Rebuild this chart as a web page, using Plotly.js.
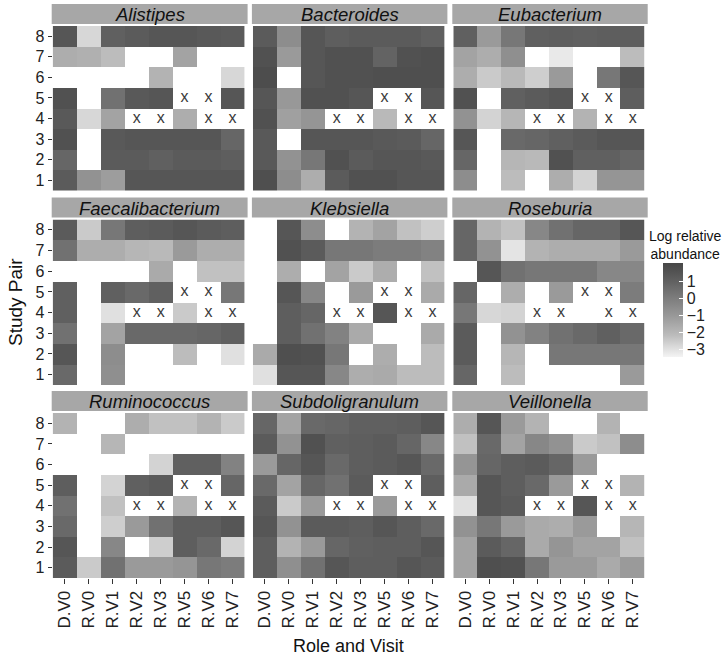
<!DOCTYPE html>
<html><head><meta charset="utf-8">
<script src="https://cdn.plot.ly/plotly-3.0.1.min.js"></script>
<style>html,body{margin:0;padding:0;background:#fff}</style>
</head><body><div id="chart" style="width:725px;height:657px"></div>
<script>
// ---------------- DATA ----------------
const visits = ['D.V0','R.V0','R.V1','R.V2','R.V3','R.V5','R.V6','R.V7'];
const pairs = [1,2,3,4,5,6,7,8];
const genera = ['Alistipes','Bacteroides','Eubacterium','Faecalibacterium','Klebsiella','Roseburia','Ruminococcus','Subdoligranulum','Veillonella'];

// rows listed from top (pair 8) down to bottom (pair 1); columns follow `visits`
const alistipes = [
  [1.4,-2.8,1.0,1.2,1.4,1.4,1.3,1.2],
  [-1.7,-1.8,-2.2,null,null,-1.4,null,null],
  [null,null,null,null,-1.9,null,null,-2.8],
  [1.6,null,0.4,1.3,1.4,null,null,1.4],
  [1.3,-2.8,-1.4,null,null,-1.7,null,null],
  [1.6,null,1.3,1.4,1.4,1.4,1.4,0.8],
  [0.8,null,1.2,1.2,1.0,1.2,1.2,1.1],
  [1.2,-0.8,-1.2,1.4,1.4,1.4,1.4,1.4]
];
const bacteroides = [
  [1.2,-0.6,1.4,1.1,1.2,1.2,1.2,1.0],
  [1.6,-1.1,1.4,1.6,1.6,0.9,1.6,1.7],
  [1.8,null,1.4,1.6,1.6,1.7,1.7,1.7],
  [1.4,-1.0,1.6,1.6,1.4,null,null,1.4],
  [1.6,-1.3,-0.9,null,null,-2.1,null,null],
  [1.3,null,1.4,1.4,1.4,1.3,1.2,0.8],
  [1.3,-0.8,0.2,1.6,1.2,1.4,1.4,1.3],
  [1.7,-0.6,-1.7,1.2,1.6,1.6,1.4,1.4]
];
const eubacterium = [
  [1.0,-1.1,0.2,1.0,1.1,1.0,1.1,1.1],
  [-1.4,-1.7,-0.7,null,-3.2,null,null,-2.2],
  [-1.7,-2.5,-2.1,-2.6,-1.1,null,0.2,1.4],
  [1.6,null,1.0,1.2,1.4,null,null,1.1],
  [-0.8,-2.7,-2.0,null,null,-1.9,null,null],
  [1.4,null,0.7,0.8,1.0,1.2,1.4,1.4],
  [0.8,null,-2.0,-2.1,1.6,1.0,1.0,0.8],
  [-0.6,null,-2.2,null,-1.7,-2.7,-0.9,-0.9]
];
const faecalibacterium = [
  [1.2,-2.5,0.2,1.1,1.2,1.4,1.2,1.1],
  [0.4,-1.7,-1.7,-2.0,-2.1,-1.1,-1.7,-1.7],
  [null,null,null,null,-1.6,null,-2.3,-2.3],
  [1.0,null,1.0,0.7,1.0,null,null,0.2],
  [1.0,null,-3.0,null,null,-2.5,null,null],
  [0.4,null,-1.4,0.7,0.7,0.7,0.8,1.0],
  [1.4,null,-0.6,null,null,-2.2,null,-3.0],
  [0.7,null,-0.7,null,null,null,null,null]
];
const klebsiella = [
  [null,1.4,-0.6,null,-1.9,-1.4,-2.3,-2.6],
  [null,1.6,1.2,0.2,0.2,0.0,0.0,-0.2],
  [null,-1.7,null,-1.4,-2.5,-1.7,null,-2.3],
  [null,1.4,-0.4,null,-1.1,null,null,-1.6],
  [null,1.1,0.8,null,null,1.4,null,null],
  [null,1.1,0.4,-0.2,-1.6,null,null,-1.6],
  [-1.6,1.7,1.6,0.2,null,-1.7,null,-2.2],
  [-3.0,1.4,1.4,-0.4,-1.7,-1.6,-2.2,-2.2]
];
const roseburia = [
  [0.8,-1.9,-2.3,-0.4,0.4,0.8,0.8,1.4],
  [0.8,-0.8,-3.1,-1.9,-1.7,-1.7,-1.7,-1.1],
  [null,1.4,0.4,0.2,0.2,0.2,-0.4,-0.4],
  [0.8,null,-1.7,null,-1.1,null,null,0.0],
  [0.2,-2.8,-2.7,null,null,null,null,null],
  [1.2,null,-0.8,-0.2,0.4,0.7,1.0,0.7],
  [1.2,null,-2.0,null,0.2,0.2,0.2,0.2],
  [0.8,null,-2.2,null,null,null,null,-1.1]
];
const ruminococcus = [
  [-1.9,null,null,-1.7,-2.3,-2.3,-1.9,-2.5],
  [null,null,-2.0,null,null,null,null,null],
  [null,null,null,null,-2.7,1.0,1.0,-0.2],
  [1.1,null,-2.7,1.0,1.2,null,null,0.8],
  [0.4,null,-2.3,null,null,-1.9,null,null],
  [0.7,null,-2.6,-1.1,0.4,1.1,1.1,1.4],
  [1.4,null,-0.4,null,-2.6,1.1,0.7,-2.7],
  [1.2,-2.5,0.4,-1.1,-1.1,-0.9,0.2,0.0]
];
const subdoligranulum = [
  [0.8,-1.4,0.7,0.8,1.0,1.0,1.1,1.4],
  [1.2,-0.8,1.6,1.0,1.1,1.2,0.8,-0.4],
  [-1.1,0.8,1.4,0.7,1.1,1.2,1.4,0.7],
  [0.7,-1.4,0.8,0.4,1.2,null,null,1.1],
  [1.2,-2.5,-1.1,null,null,-1.1,null,null],
  [1.4,-0.8,1.2,1.2,1.1,1.4,1.1,0.7],
  [1.1,-1.9,-1.1,0.8,1.0,1.1,1.1,1.4],
  [1.1,-0.7,0.4,1.4,1.1,1.1,1.4,1.2]
];
const veillonella = [
  [-1.7,1.4,-1.1,-1.9,null,null,-1.9,null],
  [-2.3,0.7,-1.4,-0.4,-0.8,-2.5,-2.3,-0.6],
  [-0.9,0.8,1.1,1.2,0.8,-1.1,null,null],
  [-1.6,1.4,1.1,0.7,-1.1,null,null,-1.9],
  [-3.0,1.4,1.2,null,null,1.4,null,null],
  [-0.8,0.2,-1.1,-1.6,-1.7,-1.1,null,-2.0],
  [-1.4,1.2,0.8,-1.6,-0.9,-1.4,-1.4,-2.3],
  [-1.4,1.7,1.6,0.2,-1.1,-1.1,-1.6,-1.1]
];

// samples that were not collected (marked "x" in every panel)
const missingVisit = ['R.V2','R.V3','R.V6','R.V7','R.V5','R.V6'];
const missingPair  = [4,4,4,4,5,5];

const colorTicks = [-3,-2,-1,0,1];
const zMin = -3.47, zMax = 2.06;

// ---------------- LAYOUT ----------------
const panelData = [alistipes,bacteroides,eubacterium,faecalibacterium,klebsiella,roseburia,ruminococcus,subdoligranulum,veillonella];
const W = 725, H = 657;
const colPx = [[52.7,244.6],[252.9,444.4],[453.3,644.7]];
const rowPx = [[26,190.5],[219.5,385],[413,578]];
const FONT = 'Liberation Sans, Arial, Helvetica, sans-serif';
const px = v => v / W;
const py = v => (H - v) / H;

const traces = [];
const layout = {
  width: W, height: H,
  margin: {l:0, r:0, t:0, b:0},
  paper_bgcolor: '#ffffff', plot_bgcolor: '#ffffff',
  font: {family: FONT, color: '#222'},
  showlegend: false,
  shapes: [], annotations: [],
  coloraxis: {
    cmin: zMin, cmax: zMax,
    colorscale: [
      [0, '#f4f4f4'], [0.085, '#e0e0e0'], [0.23, '#bcbcbc'], [0.43, '#9a9a9a'],
      [0.664, '#777777'], [0.808, '#606060'], [0.935, '#4f4f4f'], [1, '#474747']
    ],
    colorbar: {
      x: px(663), xanchor: 'left', xref: 'paper',
      y: py(310), yanchor: 'middle', yref: 'paper',
      len: 94, lenmode: 'pixels', thickness: 20, thicknessmode: 'pixels',
      xpad: 0, ypad: 0, outlinewidth: 0,
      ticks: 'inside', ticklen: 4, tickcolor: '#ffffff', tickwidth: 1,
      tickvals: colorTicks, tickfont: {size: 16, color: '#222', family: FONT},
      title: {text: ''}
    }
  }
};

panelData.forEach((rows, i) => {
  const c = i % 3, r = Math.floor(i / 3);
  const n = i === 0 ? '' : String(i + 1);
  const z = rows.slice().reverse(); // bottom-up to match pairs 1..8
  traces.push({
    type: 'heatmap', x: visits, y: pairs, z: z,
    coloraxis: 'coloraxis', connectgaps: false, hoverinfo: 'skip',
    xaxis: 'x' + n, yaxis: 'y' + n
  });
  traces.push({
    type: 'scatter', mode: 'text', x: missingVisit, y: missingPair,
    text: missingVisit.map(() => 'x'),
    textfont: {size: 16, color: '#3a3a3a', family: FONT},
    hoverinfo: 'skip', xaxis: 'x' + n, yaxis: 'y' + n
  });
  const bottom = r === 2, left = c === 0;
  layout['xaxis' + n] = {
    domain: [px(colPx[c][0]), px(colPx[c][1])], anchor: 'y' + n,
    type: 'category', categoryorder: 'array', categoryarray: visits,
    range: [-0.5, 7.5], showgrid: false, zeroline: false, showline: false,
    ticks: bottom ? 'outside' : '', ticklen: 5, tickcolor: '#333',
    showticklabels: bottom, tickangle: -90,
    tickfont: {size: 17, color: '#222', family: FONT}, fixedrange: true
  };
  layout['yaxis' + n] = {
    domain: [py(rowPx[r][1]), py(rowPx[r][0])], anchor: 'x' + n,
    type: 'linear', range: [0.5, 8.5], tickvals: pairs,
    showgrid: false, zeroline: false, showline: false,
    ticks: left ? 'outside' : '', ticklen: 4, tickcolor: '#333',
    showticklabels: left, tickfont: {size: 16, color: '#222', family: FONT}, fixedrange: true
  };
  // facet strip
  const sx0 = colPx[c][0] - 1, sx1 = colPx[c][1] + 3;
  const sy0 = rowPx[r][0] - 22, sy1 = rowPx[r][0] - 2;
  layout.shapes.push({
    type: 'rect', xref: 'paper', yref: 'paper',
    x0: px(sx0), x1: px(sx1), y0: py(sy1), y1: py(sy0),
    fillcolor: '#a7a7a7', line: {width: 0}, layer: 'below'
  });
  layout.annotations.push({
    xref: 'paper', yref: 'paper', x: px((sx0 + sx1) / 2), y: py((sy0 + sy1) / 2 + 0.5),
    xanchor: 'center', yanchor: 'middle', showarrow: false,
    text: '<i>' + genera[i] + '</i>', font: {size: 18.5, color: '#111', family: FONT}
  });
});

// axis titles and legend title
layout.annotations.push(
  {xref:'paper', yref:'paper', x: px(348.7), y: py(646), xanchor:'center', yanchor:'middle',
   showarrow:false, text:'Role and Visit', font:{size:18, color:'#111', family:FONT}},
  {xref:'paper', yref:'paper', x: px(15), y: py(302), xanchor:'center', yanchor:'middle',
   showarrow:false, textangle:-90, text:'Study Pair', font:{size:19, color:'#111', family:FONT}},
  {xref:'paper', yref:'paper', x: px(685), y: py(245), xanchor:'center', yanchor:'middle',
   showarrow:false, align:'center', text:'Log relative<br>abundance', font:{size:14, color:'#111', family:FONT}}
);

Plotly.newPlot('chart', traces, layout, {displayModeBar: false, staticPlot: true});
</script>
</body></html>
